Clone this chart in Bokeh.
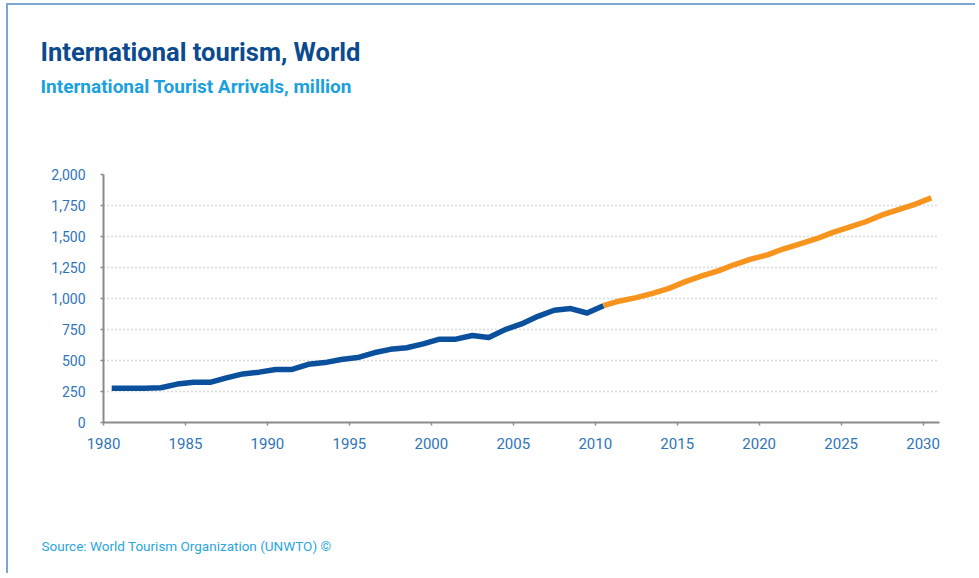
from bokeh.plotting import figure
from bokeh.models import Range1d, FixedTicker, NumeralTickFormatter, CustomJSTickFormatter, Title
from bokeh.embed import file_html
from bokeh.resources import INLINE

# ---- data ----
years_hist = list(range(1980, 2011))
arrivals_hist = [277, 277, 277, 280, 310, 324, 324, 360, 392, 406,
                 428, 428, 469, 483, 508, 524, 562, 590, 603, 634,
                 672, 672, 702, 686, 749, 795, 856, 905, 919, 883, 942]
years_fc = list(range(2010, 2031))
arrivals_fc = [942, 980, 1007, 1042, 1082, 1136, 1182, 1223, 1274, 1317, 1352,
               1401, 1441, 1482, 1533, 1576, 1619, 1674, 1717, 1760, 1811]
x_tick_years = [1980, 1985, 1990, 1995, 2000, 2005, 2010, 2015, 2020, 2025, 2030]
y_ticks = [0, 250, 500, 750, 1000, 1250, 1500, 1750, 2000]

title_text = "International tourism, World"
subtitle_text = "International Tourist Arrivals, million"
source_text = "Source: World Tourism Organization (UNWTO) \u00a9"

FONT = "Roboto"
W, H = 969, 570
FL = 95          # frame left inside canvas (canvas starts at page x=8)

p = figure(width=W, height=H, output_backend="svg", toolbar_location=None,
           x_range=Range1d(years_hist[0] - 0.5, years_fc[-1] + 0.5),
           y_range=Range1d(y_ticks[0], y_ticks[-1]),
           min_border_left=FL, min_border_right=38, min_border_top=169,
           min_border_bottom=153)
p.outline_line_color = None
p.background_fill_color = "white"
p.border_fill_color = "white"

p.line(years_hist, arrivals_hist, line_color="#0a509c", line_width=5.5, line_join="round")
p.line(years_fc, arrivals_fc, line_color="#f7941d", line_width=5.5, line_join="round")

# axes
p.xaxis.ticker = FixedTicker(ticks=[y - 0.5 for y in x_tick_years])
p.xaxis.formatter = CustomJSTickFormatter(code="return (tick + 0.5).toFixed(0);")
p.yaxis.ticker = FixedTicker(ticks=y_ticks)
p.yaxis.formatter = NumeralTickFormatter(format="0,0")
for ax in (p.xaxis[0], p.yaxis[0]):
    ax.axis_line_color = "#8a8a8a"
    ax.axis_line_width = 2
    ax.major_tick_line_color = "#8a8a8a"
    ax.major_tick_line_width = 1.5
    ax.major_tick_out = 3
    ax.major_tick_in = 0
    ax.minor_tick_line_color = None
    ax.major_label_text_color = "#2f74b8"
    ax.major_label_text_font = FONT
p.xaxis.major_label_text_font_size = "15px"
p.yaxis.major_label_text_font_size = "14px"
p.xaxis.major_label_standoff = 12
p.yaxis.major_label_standoff = 15

p.xgrid.grid_line_color = None
p.ygrid.grid_line_color = "#b5b5b5"
p.ygrid.grid_line_dash = "1 3"
p.ygrid.grid_line_width = 1.5

# titles: panels stack outward from the frame
p.add_layout(Title(text=" ", standoff=72, text_font_size="1px"), "above")      # spacer
p.add_layout(Title(text=subtitle_text, align="left", offset=40 - 103, standoff=4,
                   text_font=FONT, text_font_style="bold", text_font_size="19px",
                   text_color="#1aa1dd"), "above")
p.add_layout(Title(text=title_text, align="left", offset=40 - 103, standoff=8,
                   text_font=FONT, text_font_style="bold", text_font_size="25.5px",
                   text_color="#0b4a8e"), "above")
p.add_layout(Title(text=" ", standoff=79, text_font_size="1px"), "below")      # spacer
p.add_layout(Title(text=source_text, align="left", offset=41 - 103, standoff=4,
                   text_font=FONT, text_font_style="normal", text_font_size="13.5px",
                   text_color="#2aa6df"), "below")

p.styles = {"margin-left": "6px", "margin-top": "3px",
            "border-left": "2px solid #7ba6d6", "border-top": "2px solid #7ba6d6"}

open("out.html", "w").write(file_html(p, INLINE))
